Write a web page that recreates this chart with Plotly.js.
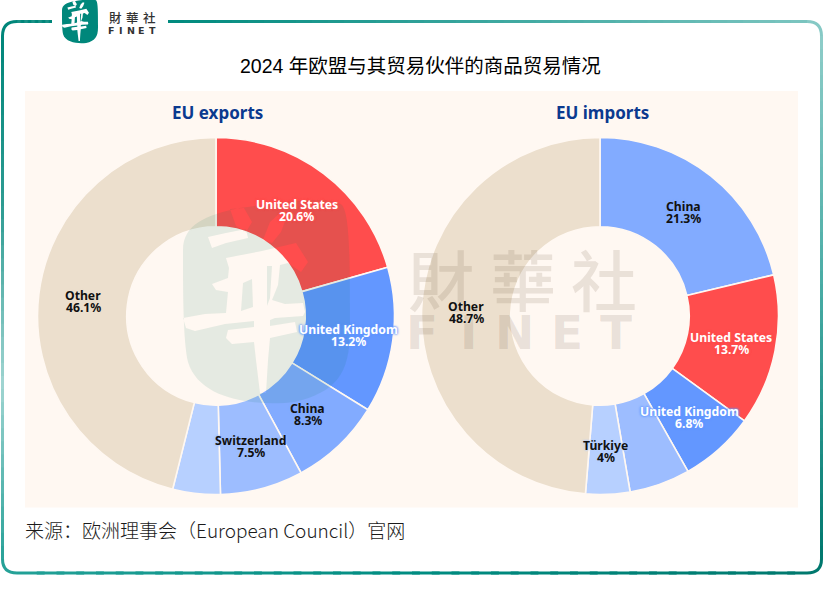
<!DOCTYPE html>
<html><head><meta charset="utf-8">
<script src="https://cdn.plot.ly/plotly-3.0.1.min.js"></script>
<style>html,body{margin:0;padding:0;background:#fff;overflow:hidden}#c{width:823px;height:595px}</style>
</head><body><div id="c"></div>
<script>
// ---- data ----
const mainTitle = '2024 年欧盟与其贸易伙伴的商品贸易情况';
const sourceNote = '来源：欧洲理事会（European Council）官网';
const exportTitle = 'EU exports';
const importTitle = 'EU imports';
const exportLabels = ['United States','United Kingdom','China','Switzerland','Unlabelled partner','Other'];
const exportValues = [20.6,13.2,8.3,7.5,4.3,46.1];
const exportShown  = [true,true,true,true,false,true];
const exportColors = ['#ff4d4d','#6397ff','#82abff','#9dbdff','#b7d0ff','#ecdfcd'];
const importLabels = ['China','United States','United Kingdom','Unlabelled partner','Türkiye','Other'];
const importValues = [21.3,13.7,6.8,5.5,4,48.7];
const importShown  = [true,true,true,false,true,true];
const importColors = ['#82abff','#ff4d4d','#6397ff','#9dbdff','#b7d0ff','#ecdfcd'];

// ---- styles ----
const W=823,H=595,R=178.5,CY=316,HOLE=0.5;
const LABEL_FONT='"Noto Sans","Open Sans",sans-serif';
const CJK='"Liberation Sans","Noto Sans CJK SC",sans-serif';
const TC='"Noto Sans CJK TC",sans-serif';

function pie(labels,values,colors,cx){
  return {type:'pie',labels,values,sort:false,direction:'clockwise',rotation:0,hole:HOLE,
    domain:{x:[(cx-R)/W,(cx+R)/W],y:[(H-CY-R)/H,(H-CY+R)/H]},
    marker:{colors,line:{color:'#fff8f2',width:1.6}},
    textinfo:'none',hoverinfo:'label+value',showlegend:false};
}

// ---- frame and logo decoration ----
function hex(c){return [1,3,5].map(i=>parseInt(c.slice(i,i+2),16));}
function mix(a,b,t){const A=hex(a),B=hex(b);return 'rgb('+A.map((v,i)=>Math.round(v+(B[i]-v)*t)).join(',')+')';}
const shapes=[];
shapes.push({type:'rect',layer:'below',xref:'paper',yref:'paper',x0:25/W,x1:798/W,y0:1-507.5/H,y1:1-91/H,fillcolor:'#fff8f2',line:{width:0}});
const frameRuns=[ // straight runs of the frame, with the colour at each stop
  {from:[168,21.5],to:[807,21.5],stops:['#008a7e','#3ba79f','#7cc5c0']},
  {from:[2.5,36],to:[2.5,559],stops:['#00867a','#2f9c93','#a0d5d2','#28a198']},
  {from:[17,573],to:[807,573],stops:['#22a197','#008c81','#00786e']},
  {from:[821.5,559],to:[821.5,36],stops:['#00786e','#46aaa3','#8ecdc9']},
  {from:[52,21.5],to:[17,21.5],stops:['#00867a','#00867a']}
];
frameRuns.forEach(r=>{
  const n=40,dx=r.to[0]-r.from[0],dy=r.to[1]-r.from[1];
  for(let i=0;i<n;i++){
    const t0=i/n,tm=(i+.5)/n,t1=Math.min(1,(i+1.4)/n),k=tm*(r.stops.length-1),j=Math.min(Math.floor(k),r.stops.length-2);
    shapes.push({type:'line',layer:'above',xref:'paper',yref:'paper',
      x0:(r.from[0]+dx*t0)/W,x1:(r.from[0]+dx*t1)/W,
      y0:1-(r.from[1]+dy*t0)/H,y1:1-(r.from[1]+dy*t1)/H,
      line:{color:mix(r.stops[j],r.stops[j+1],k-j),width:3}});
  }
});
const corners=[
  ['M2.5,36 Q2.5,21.5 17,21.5','#00867a'],
  ['M2.5,559 Q2.5,573 17,573','#25a197'],
  ['M807,573 Q821.5,573 821.5,559','#00786e'],
  ['M807,21.5 Q821.5,21.5 821.5,36','#86c9c5']
];
function mapPath(d,sx,sy,dx,dy){
  return d.replace(/(-?[\d.]+),(-?[\d.]+)/g,(m,a,b)=>((+a*sx+dx)/W)+','+(1-(+b*sy+dy)/H));
}
corners.forEach(c=>shapes.push({type:'path',layer:'above',xref:'paper',yref:'paper',path:mapPath(c[0],1,1,0,0),line:{color:c[1],width:3}}));

// logo outline with the brush character cut out (drawn at watermark size, then scaled)
const logoPath=[
 'M183,250 C183,225 205,215 240,208 C280,202 330,195 342,205 C350,215 350,260 350,330 C350,375 335,392 295,402 C260,406 200,402 188,362 C183,340 183,290 183,250 Z',
 'M230,209 L244,208 L252,222 L246,232 L236,226 Z',
 'M208,237 L226,233 L246,229 L248,238 L226,243 L212,248 Z',
 'M263,240 L270,222 L280,213 L287,216 L281,232 L272,243 Z',
 'M183,318 L205,314 L226,313 L228,292 L216,290 L212,284 L228,278 L229,268 L226,258 L262,251 L296,243 L308,262 L301,272 L288,263 L280,265 L278,285 L272,300 L285,304 L303,303 L305,312 L303,316 L275,318 L270,320 L270,326 L295,322 L297,332 L270,338 L268,360 L266,393 L260,393 L256,360 L254,342 L232,344 L226,338 L228,330 L254,327 L254,321 L225,324 L195,331 L186,328 Z',
 'M243,283 L252,279 L253,307 L241,311 Z',
 'M267,266 L272,266 L270,298 L267,306 Z'
].join(' ');
shapes.push({type:'path',layer:'above',xref:'paper',yref:'paper',fillrule:'evenodd',
  path:mapPath(logoPath,1,1,0,0),fillcolor:'rgba(0,120,90,0.10)',line:{width:0}});
const s=36/167;
shapes.push({type:'path',layer:'above',xref:'paper',yref:'paper',fillrule:'evenodd',
  path:mapPath(logoPath,s,s,62-183*s,-205*s+0.5),fillcolor:'#00877b',line:{width:0}});

// ---- text ----
const ann=[];
function text(t,x,y,font,anchor){
  ann.push({text:t,x:x/W,y:1-y/H,xref:'paper',yref:'paper',showarrow:false,xanchor:anchor||'center',yanchor:'middle',font,borderpad:0,borderwidth:0});
}
text(mainTitle,420,66,{family:CJK,size:19.5,color:'#000'});
text(sourceNote,25,529.5,{family:'"Noto Sans CJK SC",sans-serif',size:19,color:'#1a1a1a',weight:300},'left');
text(exportTitle,218,112,{family:LABEL_FONT,size:17,weight:700,color:'#0b3a8f'});
text(importTitle,602,112,{family:LABEL_FONT,size:17,weight:700,color:'#0b3a8f'});
function wordmark(cx,ycjk,ylat,k,cjkSize,latSize,color){
  ['財','華','社'].forEach((ch,i)=>text(ch,cx+(i-1)*k*17,ycjk,{family:TC,size:cjkSize,weight:500,color}));
  const xs=[-21,-11.2,-1.6,9.3,19.5];
  ['F','I','N','E','T'].forEach((ch,i)=>text(ch,cx+xs[i]*k,ylat,{family:'"DejaVu Sans",sans-serif',size:latSize,weight:700,color}));
}
wordmark(132.5,17.5,30,1,12.5,9.5,'#333333');
wordmark(522.5,277,332,4.8,66,47,'rgba(90,70,50,0.13)');

// slice labels: each sits at the middle of its ring, placed from the values
function sliceLabels(labels,values,shown,colors,cx){
  const total=values.reduce((a,b)=>a+b,0), rMid=R*(1+HOLE)/2;
  let cum=0;
  values.forEach((v,i)=>{
    const ang=(cum+v/2)/total*2*Math.PI; cum+=v;
    if(!shown[i]) return;
    const x=cx+rMid*Math.sin(ang), y=CY-rMid*Math.cos(ang);
    const c=colors[i];
    const light=labels[i]==='United States'||labels[i]==='United Kingdom';
    const f={family:LABEL_FONT,size:12.2,weight:700,color:light?'#ffffff':'#111111',shadow:`0 0 2px ${c}, 0 0 2px ${c}, 0 0 3px ${c}`};
    text(labels[i],x,y-4.5,f);
    text(v+'%',x,y+7.5,f);
  });
}
sliceLabels(exportLabels,exportValues,exportShown,exportColors,216);
sliceLabels(importLabels,importValues,importShown,importColors,600);

const data=[pie(exportLabels,exportValues,exportColors,216),pie(importLabels,importValues,importColors,600)];
Plotly.newPlot('c',data,{width:W,height:H,margin:{l:0,r:0,t:0,b:0},paper_bgcolor:'#ffffff',
  shapes,annotations:ann,showlegend:false},{displayModeBar:false,staticPlot:true});
</script></body></html>
